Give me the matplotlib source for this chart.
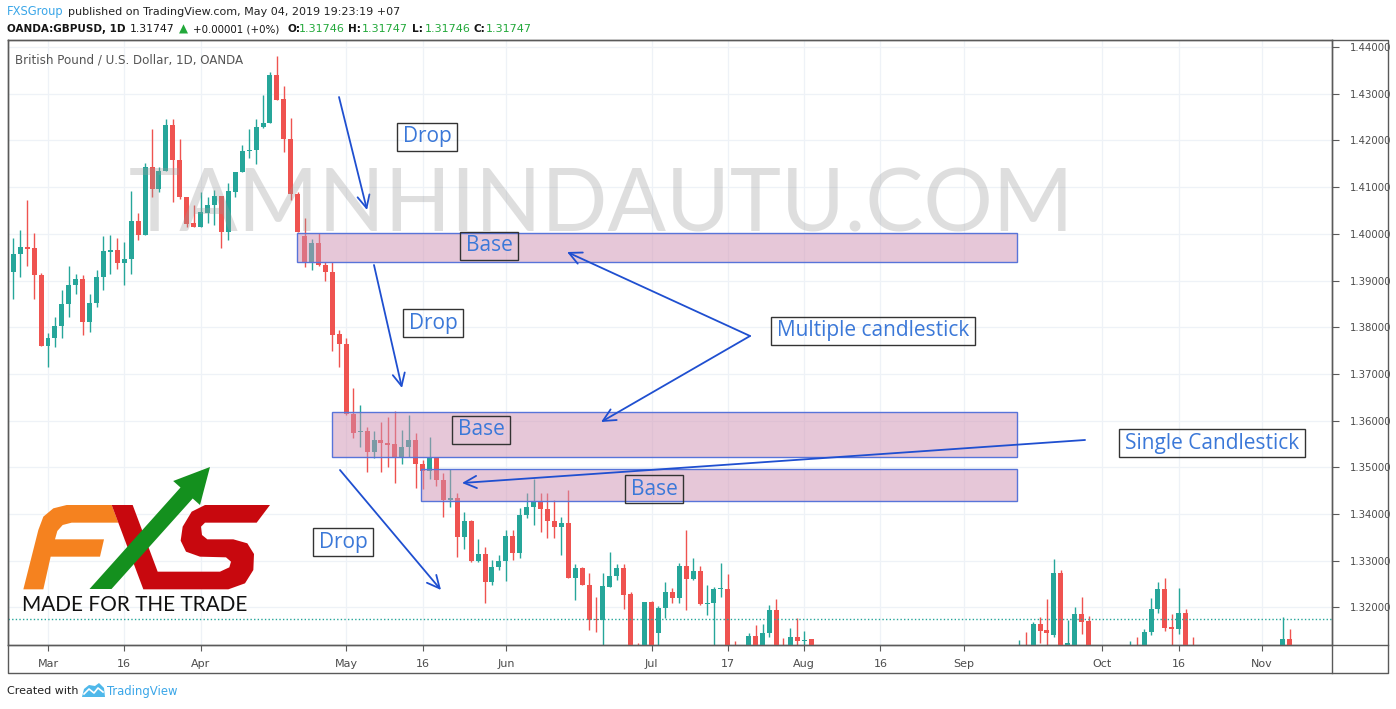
import numpy as np
import matplotlib
matplotlib.use('Agg')
import matplotlib.pyplot as plt
from matplotlib.patches import Rectangle, Polygon

W, H = 1396, 709

# ---------------- data (GBPUSD daily, index = trading day from Feb 21 2018) -------------
opens = [
 1.3997, 1.3919, 1.3956, 1.3971, 1.3969, 1.3911, 1.3760, 1.3776, 1.3802, 1.3849,
 1.3890, 1.3903, 1.3812, 1.3851, 1.3907, 1.3962, 1.3965, 1.3938, 1.3946, 1.4027,
 1.3998, 1.4143, 1.4097, 1.4134, 1.4233, 1.4159, 1.4078, 1.4023, 1.4014, 1.4045,
 1.4061, 1.4081, 1.4004, 1.4090, 1.4132, 1.4177, 1.4179, 1.4228, 1.4237, 1.4340,
 1.4288, 1.4204, 1.4085, 1.3995, 1.3940, 1.3980, 1.3933, 1.3919, 1.3785, 1.3765,
 1.3615, 1.3575, 1.3578, 1.3533, 1.3558, 1.3551, 1.3549, 1.3521, 1.3543, 1.3558,
 1.3508, 1.3493, 1.3519, 1.3473, 1.3430, 1.3435, 1.3351, 1.3385, 1.3299, 1.3314,
 1.3255, 1.3286, 1.3299, 1.3352, 1.3317, 1.3397, 1.3414, 1.3425, 1.3410, 1.3385,
 1.3373, 1.3380, 1.3264, 1.3285, 1.3249, 1.3176, 1.3174, 1.3244, 1.3268, 1.3284,
 1.3228, 1.3100, 1.3075, 1.3211, 1.3146, 1.3198, 1.3232, 1.3221, 1.3288, 1.3261,
 1.3277, 1.3207, 1.3209, 1.3239, 1.3240, 1.3095, 1.3030, 1.2965, 1.3139, 1.3100,
 1.3146, 1.3194, 1.3110, 1.3100, 1.3136, 1.3129, 1.3132, 1.3005, 1.3000, 1.2940,
 1.2955, 1.2895, 1.2830, 1.2775, 1.2780, 1.2750, 1.2705, 1.2720, 1.2735, 1.2795,
 1.2905, 1.2880, 1.2815, 1.2845, 1.2890, 1.2860, 1.3005, 1.3010, 1.2960, 1.2880,
 1.2850, 1.2920, 1.2945, 1.2925, 1.2990, 1.3035, 1.3040, 1.3110, 1.3070, 1.3164,
 1.3152, 1.3141, 1.3273, 1.3070, 1.3120, 1.3186, 1.3171, 1.3065, 1.3035, 1.3040,
 1.2965, 1.2975, 1.3020, 1.3110, 1.3075, 1.3147, 1.3196, 1.3239, 1.3157, 1.3154,
 1.3187, 1.3105, 1.3035, 1.3045, 1.3000, 1.2970, 1.2890, 1.2815, 1.2820, 1.2795,
 1.2715, 1.2770, 1.3000, 1.2970, 1.3045, 1.3132, 1.3050, 1.2975, 1.2850, 1.2925,
 1.2985, 1.2770]
highs = [
 1.4000, 1.3992, 1.4008, 1.4072, 1.4001, 1.3917, 1.3787, 1.3821, 1.3880, 1.3931,
 1.3913, 1.3912, 1.3872, 1.3922, 1.3995, 1.3997, 1.3990, 1.3983, 1.4092, 1.4044,
 1.4152, 1.4224, 1.4142, 1.4246, 1.4246, 1.4204, 1.4079, 1.4062, 1.4090, 1.4078,
 1.4094, 1.4081, 1.4108, 1.4133, 1.4190, 1.4224, 1.4245, 1.4297, 1.4346, 1.4381,
 1.4317, 1.4249, 1.4090, 1.4033, 1.3988, 1.4001, 1.3940, 1.3940, 1.3794, 1.3776,
 1.3669, 1.3633, 1.3587, 1.3578, 1.3598, 1.3608, 1.3620, 1.3580, 1.3612, 1.3573,
 1.3516, 1.3565, 1.3523, 1.3487, 1.3496, 1.3444, 1.3405, 1.3387, 1.3346, 1.3329,
 1.3301, 1.3312, 1.3366, 1.3366, 1.3412, 1.3446, 1.3476, 1.3444, 1.3444, 1.3429,
 1.3394, 1.3451, 1.3294, 1.3287, 1.3273, 1.3223, 1.3273, 1.3319, 1.3294, 1.3294,
 1.3234, 1.3124, 1.3212, 1.3213, 1.3202, 1.3255, 1.3241, 1.3296, 1.3366, 1.3305,
 1.3289, 1.3248, 1.3243, 1.3296, 1.3272, 1.3127, 1.3045, 1.3146, 1.3162, 1.3164,
 1.3205, 1.3217, 1.3135, 1.3155, 1.3178, 1.3149, 1.3132, 1.3040, 1.3010, 1.2975,
 1.2960, 1.2905, 1.2840, 1.2800, 1.2790, 1.2760, 1.2740, 1.2745, 1.2800, 1.2910,
 1.2930, 1.2900, 1.2860, 1.2900, 1.2900, 1.3010, 1.3045, 1.3020, 1.2965, 1.2890,
 1.2960, 1.2960, 1.3000, 1.3010, 1.3060, 1.3090, 1.3130, 1.3148, 1.3168, 1.3179,
 1.3219, 1.3304, 1.3280, 1.3172, 1.3200, 1.3223, 1.3182, 1.3090, 1.3080, 1.3045,
 1.3030, 1.3040, 1.3127, 1.3137, 1.3153, 1.3220, 1.3255, 1.3262, 1.3186, 1.3241,
 1.3196, 1.3137, 1.3060, 1.3050, 1.3010, 1.3000, 1.2910, 1.2845, 1.2840, 1.2800,
 1.2785, 1.3045, 1.3030, 1.3050, 1.3179, 1.3154, 1.3065, 1.2990, 1.2940, 1.3000,
 1.3000, 1.2850]
lows = [
 1.3915, 1.3860, 1.3908, 1.3930, 1.3861, 1.3760, 1.3715, 1.3758, 1.3776, 1.3821,
 1.3872, 1.3783, 1.3790, 1.3844, 1.3880, 1.3915, 1.3925, 1.3890, 1.3915, 1.3987,
 1.3998, 1.4079, 1.4090, 1.4134, 1.4069, 1.4074, 1.4015, 1.4014, 1.4014, 1.4024,
 1.4019, 1.3969, 1.3987, 1.4079, 1.4132, 1.4163, 1.4149, 1.4226, 1.4237, 1.4287,
 1.4176, 1.4072, 1.4004, 1.3929, 1.3923, 1.3930, 1.3898, 1.3748, 1.3715, 1.3612,
 1.3562, 1.3544, 1.3491, 1.3519, 1.3491, 1.3501, 1.3466, 1.3508, 1.3523, 1.3455,
 1.3453, 1.3476, 1.3459, 1.3394, 1.3416, 1.3309, 1.3326, 1.3298, 1.3298, 1.3209,
 1.3248, 1.3280, 1.3257, 1.3301, 1.3305, 1.3391, 1.3376, 1.3362, 1.3348, 1.3348,
 1.3312, 1.3262, 1.3216, 1.3248, 1.3152, 1.3148, 1.3100, 1.3243, 1.3259, 1.3196,
 1.3050, 1.3050, 1.3060, 1.3095, 1.3110, 1.3177, 1.3209, 1.3210, 1.3194, 1.3259,
 1.3205, 1.3184, 1.3050, 1.3222, 1.3085, 1.3010, 1.2957, 1.2960, 1.3085, 1.3090,
 1.3136, 1.3105, 1.3080, 1.3095, 1.3110, 1.3115, 1.2980, 1.2955, 1.2925, 1.2905,
 1.2890, 1.2820, 1.2760, 1.2725, 1.2735, 1.2665, 1.2690, 1.2700, 1.2725, 1.2790,
 1.2860, 1.2805, 1.2790, 1.2835, 1.2845, 1.2850, 1.2975, 1.2945, 1.2860, 1.2785,
 1.2820, 1.2890, 1.2905, 1.2910, 1.2985, 1.3010, 1.3030, 1.3040, 1.3060, 1.3123,
 1.3105, 1.3137, 1.3055, 1.3050, 1.3100, 1.3144, 1.3050, 1.3010, 1.2995, 1.2925,
 1.2950, 1.2965, 1.3005, 1.3030, 1.3060, 1.3141, 1.3187, 1.3150, 1.3110, 1.3144,
 1.3095, 1.3020, 1.3000, 1.2985, 1.2920, 1.2880, 1.2800, 1.2775, 1.2780, 1.2695,
 1.2705, 1.2760, 1.2935, 1.2925, 1.3040, 1.3040, 1.2960, 1.2830, 1.2810, 1.2880,
 1.2725, 1.2720]
closes = [
 1.3919, 1.3956, 1.3971, 1.3967, 1.3911, 1.3760, 1.3776, 1.3802, 1.3849, 1.3890,
 1.3903, 1.3812, 1.3851, 1.3907, 1.3963, 1.3965, 1.3938, 1.3946, 1.4027, 1.3998,
 1.4143, 1.4097, 1.4134, 1.4233, 1.4159, 1.4078, 1.4022, 1.4014, 1.4047, 1.4061,
 1.4081, 1.4004, 1.4092, 1.4132, 1.4177, 1.4179, 1.4228, 1.4237, 1.4340, 1.4287,
 1.4204, 1.4085, 1.4004, 1.3940, 1.3980, 1.3933, 1.3919, 1.3783, 1.3765, 1.3615,
 1.3574, 1.3578, 1.3533, 1.3558, 1.3551, 1.3548, 1.3521, 1.3543, 1.3558, 1.3508,
 1.3493, 1.3519, 1.3473, 1.3430, 1.3435, 1.3351, 1.3385, 1.3299, 1.3314, 1.3255,
 1.3286, 1.3299, 1.3352, 1.3317, 1.3397, 1.3414, 1.3425, 1.3410, 1.3384, 1.3373,
 1.3380, 1.3264, 1.3284, 1.3249, 1.3174, 1.3173, 1.3246, 1.3268, 1.3284, 1.3226,
 1.3095, 1.3070, 1.3211, 1.3105, 1.3198, 1.3232, 1.3221, 1.3288, 1.3261, 1.3277,
 1.3207, 1.3210, 1.3239, 1.3241, 1.3095, 1.3030, 1.2965, 1.3139, 1.3100, 1.3146,
 1.3194, 1.3110, 1.3100, 1.3136, 1.3129, 1.3131, 1.3005, 1.3000, 1.2940, 1.2955,
 1.2895, 1.2830, 1.2775, 1.2780, 1.2750, 1.2705, 1.2720, 1.2735, 1.2795, 1.2905,
 1.2880, 1.2815, 1.2845, 1.2890, 1.2860, 1.3005, 1.3010, 1.2960, 1.2880, 1.2850,
 1.2920, 1.2945, 1.2925, 1.2990, 1.3035, 1.3040, 1.3110, 1.3070, 1.3164, 1.3149,
 1.3146, 1.3273, 1.3070, 1.3123, 1.3186, 1.3169, 1.3065, 1.3035, 1.3040, 1.2965,
 1.2975, 1.3020, 1.3110, 1.3075, 1.3147, 1.3196, 1.3239, 1.3155, 1.3154, 1.3187,
 1.3105, 1.3035, 1.3045, 1.3000, 1.2970, 1.2890, 1.2815, 1.2820, 1.2795, 1.2715,
 1.2770, 1.3000, 1.2970, 1.3045, 1.3132, 1.3050, 1.2975, 1.2850, 1.2925, 1.2985,
 1.2770, 1.2825]

x_tick_pos = [6, 17, 28, 49, 60, 72, 93, 104, 115, 126, 138, 158, 169, 181]
x_tick_labels = ['Mar', '16', 'Apr', 'May', '16', 'Jun', 'Jul', '17', 'Aug', '16',
                 'Sep', 'Oct', '16', 'Nov']
price_ticks = [1.32, 1.33, 1.34, 1.35, 1.36, 1.37, 1.38, 1.39, 1.40, 1.41, 1.42, 1.43, 1.44]
last_price = 1.31747

# supply/demand zones: (start index, end index, low, high)
zones = [(41.9, 145.7, 1.39403, 1.40010),
         (46.9, 145.7, 1.35227, 1.36190),
         (59.8, 145.7, 1.34285, 1.34957)]
# callout labels: (text, index, price)
callouts = [('Drop', 60.63, 1.42073), ('Base', 69.57, 1.39739), ('Drop', 61.50, 1.38090),
            ('Multiple candlestick', 124.93, 1.37919), ('Base', 68.42, 1.35799),
            ('Single Candlestick', 173.80, 1.35520), ('Base', 93.36, 1.34535),
            ('Drop', 48.53, 1.33400)]
# arrows: (tail index, tail price, head index, head price)
arrows = [(47.95, 1.42929, 51.99, 1.40510), (52.99, 1.39332, 57.03, 1.36698),
          (48.09, 1.34942, 62.65, 1.32373), (107.2, 1.37812, 80.82, 1.39610),
          (107.2, 1.37812, 85.72, 1.35970), (155.49, 1.35585, 65.68, 1.34664)]

UP, DOWN = '#26a69a', '#ef5350'
AXC = '#5a5a5a'
TXT = '#4c4c4c'
BLUE_T = '#3b78d8'
BLUE_A = '#1f4fd0'

fig = plt.figure(figsize=(W / 100, H / 100), dpi=100)
fig.patch.set_facecolor('white')
ax = fig.add_axes([8 / W, 1 - 645 / H, 1324 / W, 605 / H])
ax.set_xlim(0.234, 191.09)
ax.set_ylim(1.31195, 1.4415)

idx = np.arange(len(opens))
o = np.array(opens); h = np.array(highs); l = np.array(lows); c = np.array(closes)
cols = np.where(c >= o, UP, DOWN)
ax.vlines(idx, l, h, colors=cols, lw=1.0, zorder=2)
bodies = np.maximum(np.abs(c - o), 0.00022)
ax.bar(idx, bodies, bottom=np.minimum(o, c), width=0.72, color=cols, lw=0, zorder=3)

ax.axhline(last_price, color='#26a69a', lw=1.0, ls=(0, (1, 1.6)), zorder=3)

for x0, x1, y0, y1 in zones:
    ax.add_patch(Rectangle((x0, y0), x1 - x0, y1 - y0, facecolor=(207/255, 145/255, 179/255, 0.5),
                           edgecolor='#5874d9', lw=1.0, zorder=4))

for tx, ty, hx, hy in arrows:
    ax.annotate('', xy=(hx, hy), xytext=(tx, ty),
                arrowprops=dict(arrowstyle='->,head_length=0.45,head_width=0.22', color=BLUE_A,
                                lw=1.3, shrinkA=0, shrinkB=0, mutation_scale=20), zorder=6)

callout_texts = []
for s, xx, yy in callouts:
    t = ax.text(xx, yy, s, ha='center', va='center', color=BLUE_T, fontsize=15,
                family=['Open Sans', 'DejaVu Sans'], zorder=7)
    callout_texts.append(t)

ax.set_xticks(x_tick_pos)
ax.set_xticklabels(x_tick_labels)
ax.set_yticks(price_ticks)
ax.set_yticklabels(['%.5f' % p for p in price_ticks])
ax.yaxis.tick_right()
ax.tick_params(axis='x', length=4, width=0.8, color=AXC, pad=6, labelsize=8, labelcolor=TXT)
ax.tick_params(axis='y', length=5, width=0.8, color=AXC, pad=8, labelsize=7.3, labelcolor=TXT)
ax.grid(True, color='#eef2f7', lw=0.9, zorder=0)
ax.set_axisbelow(True)
for sp in ax.spines.values():
    sp.set_color(AXC)
    sp.set_linewidth(1.0)

# ---------------- overlay (pixel coordinates) ----------------
ov = fig.add_axes([0, 0, 1, 1], zorder=10)
ov.set_xlim(0, W); ov.set_ylim(H, 0); ov.axis('off'); ov.patch.set_alpha(0)
renderer = fig.canvas.get_renderer()

def fit_width(t, target):
    bb = t.get_window_extent(renderer)
    t.set_fontsize(t.get_fontsize() * target / bb.width)

# frames around the callout texts (fixed height like the reference)
for t in callout_texts:
    bb = t.get_window_extent(renderer)
    cx = (bb.x0 + bb.x1) / 2.0
    cy = H - (bb.y0 + bb.y1) / 2.0
    wbox = bb.width + 11
    ov.add_patch(Rectangle((cx - wbox / 2.0, cy - 14), wbox, 28, fc='none', ec='#333333', lw=1.0))

# outer frame of the chart
ov.plot([8, 1388, 1388, 8, 8], [40, 40, 673, 673, 40], color=AXC, lw=1.0)
ov.plot([1332, 1332], [40, 673], color=AXC, lw=1.0)
ov.plot([8, 1388], [645, 645], color=AXC, lw=1.0)

# watermark
wm = ov.text(602, 207, 'TAMNHINDAUTU.COM', ha='center', va='center', fontsize=70,
             family=['Lato', 'DejaVu Sans'], fontweight='normal', color='#9a9a9a', alpha=0.32)
fit_width(wm, 945)

def put(x, y, text, color, weight, size, target=None):
    t = ov.text(x, y, text, color=color, fontsize=size, fontweight=weight,
                va='center', ha='left', family='DejaVu Sans')
    if target:
        fit_width(t, target)
    return t

G = '#22a83a'
K = '#151515'
put(7, 12, 'FXSGroup', '#3aa6e8', 'normal', 8.2, 57)
put(68, 12, 'published on TradingView.com, May 04, 2019 19:23:19 +07', '#222222', 'normal', 8.2, 332)
put(7, 29, 'OANDA:GBPUSD, 1D', K, 'bold', 8, 118)
put(130, 29, '1.31747', K, 'normal', 8, 45)
put(179, 29, '\u25B2', G, 'normal', 8.5)
put(193, 29, '+0.00001 (+0%)', K, 'normal', 8, 87)
for lab, xl, val, xv in [('O:', 287, '1.31746', 299), ('H:', 348, '1.31747', 362),
                         ('L:', 412, '1.31746', 425), ('C:', 473, '1.31747', 486)]:
    put(xl, 29, lab, K, 'bold', 7.6)
    put(xv, 29, val, G, 'normal', 8, 46)

put(15, 60, 'British Pound / U.S. Dollar, 1D, OANDA', '#555555', 'normal', 8.3, 227)

# footer
put(7, 691, 'Created with', '#222222', 'normal', 8.2, 71)
ov.add_patch(Polygon([(82, 697), (84, 689), (89, 685), (95, 686), (99, 683), (104, 688),
                      (105, 697)], closed=True, fc='#4fb8ea', ec='none'))
ov.plot([84, 89, 94, 98, 103], [694, 689, 693, 688, 692], color='white', lw=1.2)
put(107, 691, 'TradingView', '#3aa6e8', 'normal', 8.2, 70)

# FXS logo (drawn from logo-unit coordinates)
def lg(pts):
    return [(x / 3.0, 330 + y / 3.0) for x, y in pts]

F_pts = [(70, 778), (130, 778), (152, 680), (300, 680), (312, 628), (165, 628), (172, 603),
         (188, 585), (215, 578), (355, 578), (335, 525), (200, 525), (160, 535), (130, 560),
         (115, 600)]
S_pts = [(335, 525), (398, 525), (473, 725), (660, 725), (688, 712), (693, 695), (678, 682),
         (600, 680), (558, 665), (542, 632), (548, 590), (575, 545), (615, 525), (810, 525),
         (770, 578), (615, 578), (603, 590), (606, 615), (622, 628), (700, 628), (742, 640),
         (762, 672), (760, 720), (735, 760), (685, 778), (430, 778)]
A_pts = [(89.5, 589), (180.5, 487.5), (173.2, 481), (210, 467), (200, 505), (192.7, 498.5),
         (111.5, 589)]
ov.add_patch(Polygon(lg(F_pts), closed=True, fc='#f5821f', ec='none'))
ov.add_patch(Polygon(lg(S_pts), closed=True, fc='#c8080e', ec='none'))
ov.add_patch(Polygon(A_pts, closed=True, fc='#14901e', ec='none'))
mt = ov.text(22, 605, 'MADE FOR THE TRADE', ha='left', va='center', fontsize=15,
             family=['Lato', 'DejaVu Sans'], fontweight='normal', color='#111111')
fit_width(mt, 225)

fig.savefig('out.png', dpi=100)
